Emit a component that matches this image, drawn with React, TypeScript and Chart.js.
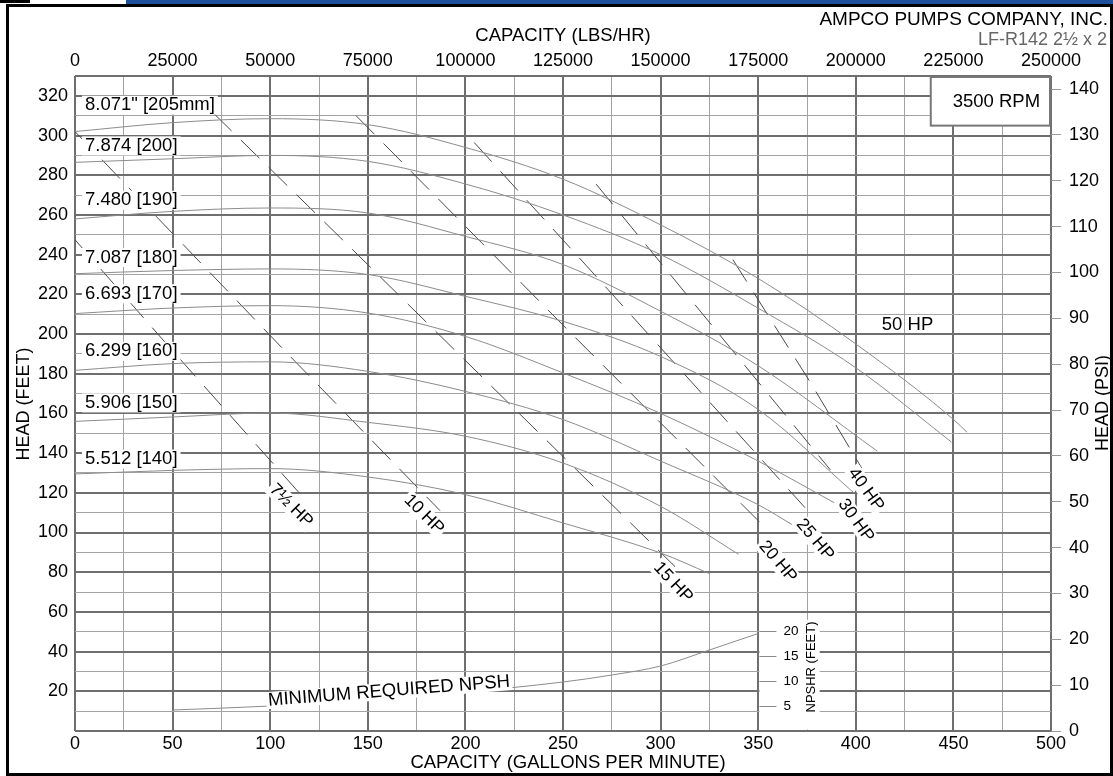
import React, { useEffect, useRef } from 'react';
import { Chart, registerables } from 'chart.js';

Chart.register(...registerables);

const FONT = '"Liberation Sans", Arial, Helvetica, sans-serif';
Chart.defaults.font.family = FONT;
Chart.defaults.color = '#000';

// ---------- tick labels ----------
const gpmTickLabels = [0, 50, 100, 150, 200, 250, 300, 350, 400, 450, 500];
const lbsTickLabels = [0, 25000, 50000, 75000, 100000, 125000, 150000, 175000, 200000, 225000, 250000];
const headTickLabels = [20, 40, 60, 80, 100, 120, 140, 160, 180, 200, 220, 240, 260, 280, 300, 320];
const psiTickLabels = [0, 10, 20, 30, 40, 50, 60, 70, 80, 90, 100, 110, 120, 130, 140];
const npshTickLabels = [5, 10, 15, 20];

// ---------- impeller head curves (gpm, ft) ----------
const diameterLabels = ['8.071" [205mm]', '7.874 [200]', '7.480 [190]', '7.087 [180]', '6.693 [170]', '6.299 [160]', '5.906 [150]', '5.512 [140]'];
const flowD205 = [0, 50, 100, 150, 200, 250, 300, 350, 400, 450, 457];
const headD205 = [302, 306.5, 308.5, 305.5, 294, 278, 255, 228, 195, 157, 150.5];
const flowD200 = [0, 50, 100, 150, 200, 250, 300, 350, 400, 449];
const headD200 = [286.5, 288.3, 290, 287, 275.6, 260, 240, 213, 183, 145.6];
const flowD190 = [0, 50, 100, 150, 200, 250, 300, 350, 411];
const headD190 = [258, 261.8, 263.5, 261, 249.2, 235, 211.5, 184, 141];
const flowD180 = [0, 50, 100, 150, 200, 250, 300, 350, 399];
const headD180 = [230.4, 232, 232.8, 230, 219, 206.4, 188.7, 162, 120];
const flowD170 = [0, 50, 100, 150, 200, 250, 300, 350, 389];
const headD170 = [210.3, 213.1, 214.3, 210.6, 198.8, 180.4, 160, 136, 115];
const flowD160 = [0, 50, 100, 150, 200, 250, 300, 350, 369];
const headD160 = [181.7, 185.1, 186, 181.2, 171.1, 156.9, 136, 114, 103];
const flowD150 = [0, 50, 100, 150, 200, 250, 300, 340];
const headD150 = [156, 158.2, 160.2, 155.5, 148.5, 135, 113.2, 89];
const flowD140 = [0, 50, 100, 150, 200, 250, 300, 325];
const headD140 = [129.5, 131.3, 132.2, 128, 119.1, 104.8, 89.7, 79.3];

// ---------- horsepower lines (gpm, ft) ----------
const hpLabels = ['7½ HP', '10 HP', '15 HP', '20 HP', '25 HP', '30 HP', '40 HP'];
const flowHp7 = [0, 46, 118];
const headHp7 = [247.5, 196, 116.5];
const flowHp10 = [0, 109, 187];
const headHp10 = [302, 190, 111];
const flowHp15 = [70.7, 136, 307.4];
const headHp15 = [311.5, 248.5, 82.8];
const flowHp20 = [144, 252.5, 351];
const headHp20 = [310, 202, 105];
const flowHp25 = [204.5, 267, 374];
const headHp25 = [296.5, 229, 112.5];
const flowHp30 = [267, 334.5, 387];
const headHp30 = [275.5, 194.5, 131.5];
const flowHp40 = [337, 376.5, 403];
const headHp40 = [237.5, 176, 132.5];

// ---------- NPSH required (gpm, ft NPSHR) ----------
const npshFlow = [50, 100, 150, 200, 250, 275, 300, 325, 350];
const npshFeet = [4.2, 5.0, 6.3, 7.8, 9.8, 11.2, 13.0, 16.2, 19.5];

const MAJOR = '#6f6f6f';
const MINOR = '#a3a3a3';

const pts = (xs: number[], ys: number[]) => xs.map((x, i) => ({ x, y: ys[i] }));

function drawText(
  ctx: CanvasRenderingContext2D,
  text: string,
  x: number,
  y: number,
  opts: { font: string; align?: 'left' | 'center' | 'right'; angle?: number; bg?: boolean; padX?: number; h?: number; color?: string }
) {
  const { font, align = 'left', angle = 0, bg = false, padX = 3, h = 18, color = '#000' } = opts;
  ctx.save();
  ctx.translate(x, y);
  ctx.rotate((angle * Math.PI) / 180);
  ctx.font = font;
  const w = ctx.measureText(text).width;
  const x0 = align === 'left' ? 0 : align === 'right' ? -w : -w / 2;
  if (bg) {
    ctx.fillStyle = '#fff';
    ctx.fillRect(x0 - padX, -h / 2, w + 2 * padX, h);
  }
  ctx.fillStyle = color;
  ctx.textAlign = 'left';
  ctx.textBaseline = 'middle';
  ctx.fillText(text, x0, 0);
  ctx.restore();
}

const decorPlugin = {
  id: 'decor',
  beforeDraw(chart: any) {
    const ctx = chart.ctx as CanvasRenderingContext2D;
    ctx.save();
    ctx.fillStyle = '#fff';
    ctx.fillRect(0, 0, chart.width, chart.height);
    ctx.restore();
  },
  afterDatasetsDraw(chart: any) {
    const ctx = chart.ctx as CanvasRenderingContext2D;
    const xs = chart.scales.x;
    const ys = chart.scales.y;
    const yn = chart.scales.yN;
    const X = (v: number) => xs.getPixelForValue(v);
    const Y = (v: number) => ys.getPixelForValue(v);

    // NPSHR inset scale
    ctx.save();
    ctx.fillStyle = '#fff';
    const ix0 = X(350) + 1.2;
    const ix1 = X(381.5);
    ctx.fillRect(ix0, Y(56), ix1 - ix0, Y(0) - 1.5 - Y(56));
    ctx.strokeStyle = '#8a8a8a';
    ctx.lineWidth = 1;
    npshTickLabels.forEach((v) => {
      const py = Math.round(yn.getPixelForValue(v)) + 0.5;
      ctx.beginPath();
      ctx.moveTo(ix0, py);
      ctx.lineTo(ix0 + 17, py);
      ctx.stroke();
      drawText(ctx, String(v), ix0 + 24, py, { font: `13.5px ${FONT}` });
    });
    ctx.restore();
    drawText(ctx, 'NPSHR (FEET)', ix0 + 52, yn.getPixelForValue(12.8), { font: `13px ${FONT}`, align: 'center', angle: -90 });

    // diameter labels
    const diaY = [315.3, 294.8, 267.4, 238.6, 220.3, 191.3, 165.3, 137];
    diameterLabels.forEach((t, i) => {
      drawText(ctx, t, X(5.1), Y(diaY[i]), { font: `18.5px ${FONT}`, bg: true, padX: 3, h: 19 });
    });

    // HP labels
    const hpPos = [
      [110.7, 113.5, 45],
      [178.8, 109.1, 45],
      [306.4, 74.8, 47],
      [360.1, 85.3, 50],
      [379.1, 96.4, 50],
      [400.1, 106, 54],
      [405.2, 121.6, 54],
    ];
    hpLabels.forEach((t, i) => {
      const [gx, gy, a] = hpPos[i];
      drawText(ctx, t, X(gx), Y(gy), { font: `17.5px ${FONT}`, align: 'center', angle: a, bg: true, padX: 2, h: 18 });
    });
    drawText(ctx, '50 HP', X(426.5), Y(204.7), { font: `18.5px ${FONT}`, align: 'center' });

    drawText(ctx, 'MINIMUM REQUIRED NPSH', X(160.9), Y(20.1), { font: `18.5px ${FONT}`, align: 'center', angle: -4.5, bg: true, padX: 2, h: 17 });

    // RPM box
    ctx.save();
    const bx0 = X(438.4);
    const bx1 = X(500) - 1;
    const by0 = Y(330) + 1;
    const by1 = Y(305);
    ctx.fillStyle = '#fff';
    ctx.fillRect(bx0, by0, bx1 - bx0, by1 - by0);
    ctx.strokeStyle = '#777';
    ctx.lineWidth = 2;
    ctx.strokeRect(bx0, by0, bx1 - bx0, by1 - by0);
    ctx.restore();
    drawText(ctx, '3500 RPM', (bx0 + bx1) / 2 + 6, (by0 + by1) / 2 + 1, { font: `18.5px ${FONT}`, align: 'center' });
  },
  afterDraw(chart: any) {
    const ctx = chart.ctx as CanvasRenderingContext2D;
    const area = chart.chartArea;
    const cx = (area.left + area.right) / 2;
    drawText(ctx, 'CAPACITY (LBS/HR)', cx, 36, { font: `18.5px ${FONT}`, align: 'center' });
    drawText(ctx, 'CAPACITY (GALLONS PER MINUTE)', cx + 5, 763, { font: `18.5px ${FONT}`, align: 'center' });
    drawText(ctx, 'HEAD (FEET)', 24, 404, { font: `18px ${FONT}`, align: 'center', angle: -90 });
    drawText(ctx, 'HEAD (PSI)', 1103, 403, { font: `18px ${FONT}`, align: 'center', angle: -90 });
    drawText(ctx, 'AMPCO PUMPS COMPANY, INC.', 1108, 19.5, { font: `19px ${FONT}`, align: 'right' });
    drawText(ctx, 'LF-R142 2½ x 2', 1107, 40, { font: `18px ${FONT}`, align: 'right', color: '#666' });

    // frame and header bar
    ctx.save();
    ctx.fillStyle = '#000';
    ctx.fillRect(0, 0, 30, 3);
    ctx.fillRect(6, 4, 1107, 3);
    ctx.fillRect(6, 4, 3, 772);
    ctx.fillRect(1110, 4, 3, 772);
    ctx.fillRect(6, 773, 1107, 3);
    ctx.fillStyle = '#1f509c';
    ctx.fillRect(126, 0, 987, 4);
    ctx.restore();
  },
};

export default function App() {
  const ref = useRef<HTMLCanvasElement | null>(null);

  useEffect(() => {
    document.body.style.margin = '0';
    document.body.style.overflow = 'hidden';
    const canvas = ref.current;
    if (!canvas) return;

    const headSets = [
      [flowD205, headD205],
      [flowD200, headD200],
      [flowD190, headD190],
      [flowD180, headD180],
      [flowD170, headD170],
      [flowD160, headD160],
      [flowD150, headD150],
      [flowD140, headD140],
    ];
    const hpSets = [
      [flowHp7, headHp7],
      [flowHp10, headHp10],
      [flowHp15, headHp15],
      [flowHp20, headHp20],
      [flowHp25, headHp25],
      [flowHp30, headHp30],
      [flowHp40, headHp40],
    ];

    const datasets: any[] = [];
    headSets.forEach(([f, h], i) => {
      datasets.push({
        label: diameterLabels[i],
        data: pts(f, h),
        xAxisID: 'x',
        yAxisID: 'y',
        borderColor: '#8c8c8c',
        borderWidth: 1,
        pointRadius: 0,
        fill: false,
        cubicInterpolationMode: 'monotone',
      });
    });
    hpSets.forEach(([f, h], i) => {
      datasets.push({
        label: hpLabels[i],
        data: pts(f, h),
        xAxisID: 'x',
        yAxisID: 'y',
        borderColor: '#4a4a4a',
        borderWidth: 1,
        borderDash: [26, 13],
        pointRadius: 0,
        fill: false,
        tension: 0,
      });
    });
    datasets.push({
      label: 'NPSHR',
      data: pts(npshFlow, npshFeet),
      xAxisID: 'x',
      yAxisID: 'yN',
      borderColor: '#8c8c8c',
      borderWidth: 1,
      pointRadius: 0,
      fill: false,
      cubicInterpolationMode: 'monotone',
    });

    const chart = new Chart(canvas, {
      type: 'line',
      data: { datasets },
      plugins: [decorPlugin],
      options: {
        responsive: false,
        animation: false,
        devicePixelRatio: 1,
        events: [],
        layout: { padding: 0 },
        plugins: { legend: { display: false }, tooltip: { enabled: false } },
        scales: {
          x: {
            type: 'linear',
            position: 'bottom',
            min: 0,
            max: 500,
            ticks: {
              stepSize: 25,
              autoSkip: false,
              maxRotation: 0,
              minRotation: 0,
              padding: 2,
              color: '#000',
              font: { size: 18, family: FONT },
              callback: (v: any) => (gpmTickLabels.includes(Number(v)) ? String(v) : ''),
            },
            grid: {
              drawTicks: false,
              color: (c: any) => (c.tick && c.tick.value % 50 === 0 ? MAJOR : MINOR),
              lineWidth: (c: any) => (c.tick && c.tick.value % 50 === 0 ? 2 : 1),
            },
            border: { display: false },
            afterFit: (s: any) => {
              s.height = 45;
            },
          },
          x2: {
            type: 'linear',
            position: 'top',
            min: 0,
            max: 250000,
            ticks: {
              stepSize: 25000,
              autoSkip: false,
              maxRotation: 0,
              minRotation: 0,
              padding: 4,
              color: '#000',
              font: { size: 18, family: FONT },
              callback: (v: any) => (lbsTickLabels.includes(Number(v)) ? String(v) : ''),
            },
            grid: { display: false, drawTicks: false },
            border: { display: false },
            afterFit: (s: any) => {
              s.height = 76;
            },
          },
          y: {
            type: 'linear',
            position: 'left',
            min: 0,
            max: 330,
            ticks: {
              stepSize: 10,
              autoSkip: false,
              padding: 7,
              color: '#000',
              font: { size: 18, family: FONT },
              callback: (v: any) => (headTickLabels.includes(Number(v)) ? String(v) : ''),
            },
            grid: {
              drawTicks: false,
              color: (c: any) => (c.tick && (c.tick.value % 20 === 0 || c.tick.value === 330) ? MAJOR : MINOR),
              lineWidth: (c: any) => (c.tick && (c.tick.value % 20 === 0 || c.tick.value === 330) ? 2 : 1),
            },
            border: { display: false },
            afterFit: (s: any) => {
              s.width = 75;
            },
          },
          y2: {
            type: 'linear',
            position: 'right',
            min: 0,
            max: 330 / 2.31,
            ticks: {
              stepSize: 10,
              includeBounds: false,
              autoSkip: false,
              padding: 8,
              color: '#000',
              font: { size: 18, family: FONT },
              callback: (v: any) => (psiTickLabels.includes(Number(v)) ? String(v) : ''),
            },
            grid: { drawOnChartArea: false, drawTicks: true, tickLength: 10, color: '#999', lineWidth: 1 },
            border: { display: false },
            afterFit: (s: any) => {
              s.width = 62;
            },
          },
          yN: {
            type: 'linear',
            display: false,
            position: 'left',
            min: 0,
            max: 131,
          },
        },
      } as any,
    });

    return () => {
      chart.destroy();
    };
  }, []);

  return (
    <div style={{ width: 1113, height: 776 }}>
      <canvas ref={ref} width={1113} height={776} style={{ display: 'block' }} />
    </div>
  );
}
